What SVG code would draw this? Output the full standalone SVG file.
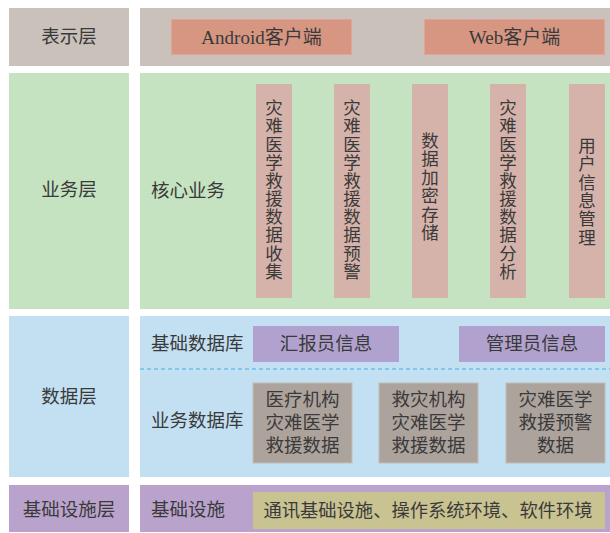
<svg xmlns="http://www.w3.org/2000/svg" width="610" height="533" viewBox="0 0 610 533">
<style>
  text{font-family:"Liberation Serif","Noto Sans CJK SC",serif;fill:#3a3a3a;dominant-baseline:central;text-anchor:middle}
  .t18{font-size:18.5px}
  .t17{font-size:17.5px}
  .lbl{font-size:18.5px;text-anchor:start}
  .client{fill:#d69682;stroke:#e3a39a;stroke-width:1}
  .col{fill:#d6b3aa}
  .pbox{fill:#b1a1ce}
  .gbox{fill:#ada39d;stroke:#c4bcb6;stroke-width:1}
  .row1{fill:#c9c1ba}
  .row2{fill:#c5e3c0}
  .row3{fill:#c3e0f3}
  .row4{fill:#b9a3cd}
</style>
<rect width="610" height="533" fill="#ffffff"/>

<g id="layer-presentation">
  <rect class="row1" x="9" y="8" width="120" height="58"/>
  <text class="t18" x="69" y="37">表示层</text>
  <rect class="row1" x="140" y="8" width="470" height="58"/>
  <g id="android">
    <rect class="client" x="171.5" y="19.5" width="180" height="35"/>
    <text x="261.5" y="37.5" style="font-size:19px">Android客户端</text>
  </g>
  <g id="web">
    <rect class="client" x="424.5" y="19.5" width="180" height="35"/>
    <text x="514.5" y="37.5" style="font-size:19px">Web客户端</text>
  </g>
</g>

<g id="layer-business">
  <rect class="row2" x="9" y="73" width="120" height="236"/>
  <text class="t18" x="69" y="190">业务层</text>
  <rect class="row2" x="140" y="73" width="470" height="236"/>
  <text class="lbl" x="151" y="191">核心业务</text>
  <g id="col1">
    <rect class="col" x="256" y="84" width="36" height="214"/>
    <text class="t17"><tspan x="274" y="108.3">灾</tspan><tspan x="274" dy="18.15">难</tspan><tspan x="274" dy="18.15">医</tspan><tspan x="274" dy="18.15">学</tspan><tspan x="274" dy="18.15">救</tspan><tspan x="274" dy="18.15">援</tspan><tspan x="274" dy="18.15">数</tspan><tspan x="274" dy="18.15">据</tspan><tspan x="274" dy="18.15">收</tspan><tspan x="274" dy="18.15">集</tspan></text>
  </g>
  <g id="col2">
    <rect class="col" x="334" y="84" width="36" height="214"/>
    <text class="t17"><tspan x="352" y="108.3">灾</tspan><tspan x="352" dy="18.15">难</tspan><tspan x="352" dy="18.15">医</tspan><tspan x="352" dy="18.15">学</tspan><tspan x="352" dy="18.15">救</tspan><tspan x="352" dy="18.15">援</tspan><tspan x="352" dy="18.15">数</tspan><tspan x="352" dy="18.15">据</tspan><tspan x="352" dy="18.15">预</tspan><tspan x="352" dy="18.15">警</tspan></text>
  </g>
  <g id="col3">
    <rect class="col" x="412" y="84" width="36" height="214"/>
    <text class="t17"><tspan x="430" y="140.5">数</tspan><tspan x="430" dy="18.5">据</tspan><tspan x="430" dy="18.5">加</tspan><tspan x="430" dy="18.5">密</tspan><tspan x="430" dy="18.5">存</tspan><tspan x="430" dy="18.5">储</tspan></text>
  </g>
  <g id="col4">
    <rect class="col" x="490" y="84" width="36" height="214"/>
    <text class="t17"><tspan x="508" y="108.3">灾</tspan><tspan x="508" dy="18.15">难</tspan><tspan x="508" dy="18.15">医</tspan><tspan x="508" dy="18.15">学</tspan><tspan x="508" dy="18.15">救</tspan><tspan x="508" dy="18.15">援</tspan><tspan x="508" dy="18.15">数</tspan><tspan x="508" dy="18.15">据</tspan><tspan x="508" dy="18.15">分</tspan><tspan x="508" dy="18.15">析</tspan></text>
  </g>
  <g id="col5">
    <rect class="col" x="569" y="84" width="36" height="214"/>
    <text class="t17"><tspan x="587" y="146">用</tspan><tspan x="587" dy="18.3">户</tspan><tspan x="587" dy="18.3">信</tspan><tspan x="587" dy="18.3">息</tspan><tspan x="587" dy="18.3">管</tspan><tspan x="587" dy="18.3">理</tspan></text>
  </g>
</g>

<g id="layer-data">
  <rect class="row3" x="9" y="316" width="120" height="161"/>
  <text class="t18" x="69" y="397">数据层</text>
  <rect class="row3" x="140" y="316" width="470" height="161"/>
  <text class="lbl" x="151" y="344">基础数据库</text>
  <g id="reporter-info">
    <rect class="pbox" x="253" y="326" width="146" height="36"/>
    <text class="t18" x="326" y="344">汇报员信息</text>
  </g>
  <g id="admin-info">
    <rect class="pbox" x="459" y="326" width="146" height="36"/>
    <text class="t18" x="532" y="344">管理员信息</text>
  </g>
  <text class="lbl" x="151" y="421">业务数据库</text>
  <g id="medical-data">
    <rect class="gbox" x="253" y="383" width="99" height="80"/>
    <text class="t18"><tspan x="302.5" y="400">医疗机构</tspan><tspan x="302.5" dy="23">灾难医学</tspan><tspan x="302.5" dy="23">救援数据</tspan></text>
  </g>
  <g id="relief-data">
    <rect class="gbox" x="379" y="383" width="99" height="80"/>
    <text class="t18"><tspan x="428.5" y="400">救灾机构</tspan><tspan x="428.5" dy="23">灾难医学</tspan><tspan x="428.5" dy="23">救援数据</tspan></text>
  </g>
  <g id="warning-data">
    <rect class="gbox" x="506" y="383" width="99" height="80"/>
    <text class="t18"><tspan x="555.5" y="400">灾难医学</tspan><tspan x="555.5" dy="23">救援预警</tspan><tspan x="555.5" dy="23">数据</tspan></text>
  </g>
</g>

<g id="layer-infra">
  <rect class="row4" x="9" y="485" width="120" height="47"/>
  <text class="t18" x="69" y="510">基础设施层</text>
  <rect class="row4" x="140" y="485" width="470" height="47"/>
  <text class="lbl" x="151" y="510">基础设施</text>
  <g id="infra-env">
    <rect x="253" y="492" width="352" height="37" fill="#c9c291"/>
    <text x="428" y="510.5" style="font-size:18.3px">通讯基础设施、操作系统环境、软件环境</text>
  </g>
</g>

<g id="connectors">
  <line x1="140" y1="369" x2="610" y2="369" stroke="#6dbde9" stroke-width="1.5" stroke-dasharray="4 3"/>
</g>
</svg>
